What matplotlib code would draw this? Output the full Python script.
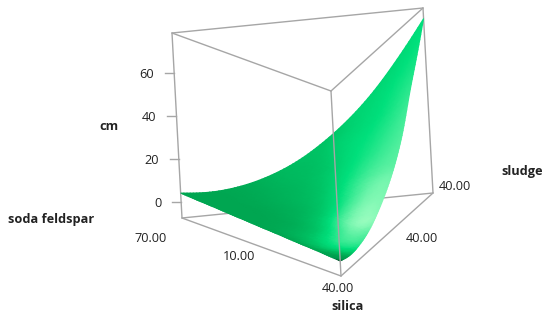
"""Mixture response surface (cm) over silica, sludge and soda feldspar."""
import matplotlib
matplotlib.use("Agg")
import matplotlib.pyplot as plt
import matplotlib.tri as mtri
import numpy as np
from matplotlib.colors import LinearSegmentedColormap

plt.rcParams["font.family"] = ["Open Sans", "DejaVu Sans"]

# one row per sludge fraction 0, .1 ... 1; within a row silica fraction 0, .1 ...
height_rows = [
    [4.2, 3.7, 3.3, 2.8, 2.4, 1.9, 1.5, 1.0, 0.6, 0.1, -0.4],
    [3.3, 2.8, 2.3, 1.8, 1.3, 0.8, 0.2, -0.4, -1.0, -1.8],
    [3.9, 3.3, 2.7, 2.1, 1.5, 0.9, 0.3, -0.4, -1.2],
    [6.1, 5.4, 4.8, 4.1, 3.4, 2.7, 1.9, 1.0],
    [9.9, 9.2, 8.5, 7.8, 7.0, 6.1, 5.2],
    [15.5, 14.6, 13.8, 13.0, 12.0, 11.0],
    [23.1, 22.0, 20.9, 19.8, 18.6],
    [32.5, 31.3, 30.2, 29.0],
    [44.1, 44.0, 44.0],
    [58.1, 58.5],
    [73.7],
]
shade_rows = [
    [.30, .30, .30, .30, .30, .30, .30, .30, .30, .22, .02],
    [.30, .30, .30, .30, .31, .34, .42, .55, .60, .35],
    [.32, .32, .33, .34, .37, .45, .62, .80, .72],
    [.36, .37, .39, .42, .50, .72, .92, .85],
    [.42, .43, .46, .55, .72, .92, .95],
    [.47, .49, .58, .72, .88, .92],
    [.50, .60, .68, .80, .88],
    [.58, .64, .74, .84],
    [.60, .68, .78],
    [.62, .70],
    [.66],
]

z_ticks = [0, 20, 40, 60]
z_min, z_max = -7.4, 78.6

# where the prism corners land in the picture
floor_left = np.array([182.0, 218.0])
floor_front = np.array([341.0, 276.0])
floor_right = np.array([433.0, 193.0])
z_vector = np.array([-10.0, -185.0]) / (z_max - z_min)

surface_cmap = LinearSegmentedColormap.from_list(
    "surface",
    [(0, "#0c3a24"), (.12, "#009a4e"), (.3, "#00a651"), (.5, "#00c566"),
     (.66, "#00e07c"), (.85, "#55f0a0"), (1, "#a4ffc4")],
)
box_color = "#a6a6a6"
text_color = "#222222"


def project(f_silica, f_sludge, z):
    f_silica, f_sludge, z = np.asarray(f_silica), np.asarray(f_sludge), np.asarray(z)
    f_left = 1 - f_silica - f_sludge
    pts = (f_left[..., None] * floor_left + f_silica[..., None] * floor_front
           + f_sludge[..., None] * floor_right + (z - z_min)[..., None] * z_vector)
    return pts[..., 0], pts[..., 1]


def edge(ax, a, b, zorder=1):
    x, y = project([a[0], b[0]], [a[1], b[1]], [a[2], b[2]])
    ax.plot(x, y, color=box_color, lw=1.0, zorder=zorder, solid_capstyle="round")


fig = plt.figure(figsize=(5.5, 3.18), dpi=100)
ax = fig.add_axes([0, 0, 1, 1])
ax.set_xlim(0, 550)
ax.set_ylim(318, 0)
ax.axis("off")

corners = [(0, 0), (1, 0), (0, 1)]
for i, (s, d) in enumerate(corners):
    s2, d2 = corners[(i + 1) % 3]
    edge(ax, (s, d, z_min), (s2, d2, z_min))
    edge(ax, (s, d, z_max), (s2, d2, z_max))
edge(ax, (0, 0, z_min), (0, 0, z_max))
edge(ax, (0, 1, z_min), (0, 1, z_max))

silica_frac = [c / 10 for row in height_rows for c in range(len(row))]
sludge_frac = [r / 10 for r, row in enumerate(height_rows) for _ in row]
heights = np.array([v for row in height_rows for v in row])
shades = np.array([v for row in shade_rows for v in row])

# smooth the read nodes with the library's refiner
tri = mtri.Triangulation(silica_frac, sludge_frac)
refiner = mtri.UniformTriRefiner(tri)
fine, fine_z = refiner.refine_field(heights, subdiv=3)
_, fine_shade = refiner.refine_field(shades, triinterpolator=mtri.CubicTriInterpolator(tri, shades), subdiv=3)
px, py = project(fine.x, fine.y, fine_z)
ax.tripcolor(mtri.Triangulation(px, py, fine.triangles), np.clip(fine_shade, 0, 1),
             shading="gouraud", cmap=surface_cmap, vmin=0, vmax=1, zorder=2)

# the front edge sits in front of the surface
edge(ax, (1, 0, z_min), (1, 0, z_max), zorder=3)

for z in z_ticks:
    x, y = project(0.0, 0.0, z)
    ax.plot([x - 9, x], [y, y], color=box_color, lw=1.0, zorder=1)
    ax.text(x - 20, y + 1, str(z), ha="right", va="center", fontsize=9.2, color=text_color)

labels = [
    ("cm", 109, 127, True), ("soda feldspar", 51, 220, True), ("silica", 348, 307, True),
    ("sludge", 522, 172, True), ("70.00", 151, 239, False), ("10.00", 239, 256, False),
    ("40.00", 338, 288, False), ("40.00", 422, 238, False), ("40.00", 455, 187, False),
]
for text, x, y, bold in labels:
    ax.text(x, y, text, ha="center", va="center", fontsize=9.2, color=text_color,
            fontweight="bold" if bold else "normal")

fig.savefig("out.png", dpi=100)
